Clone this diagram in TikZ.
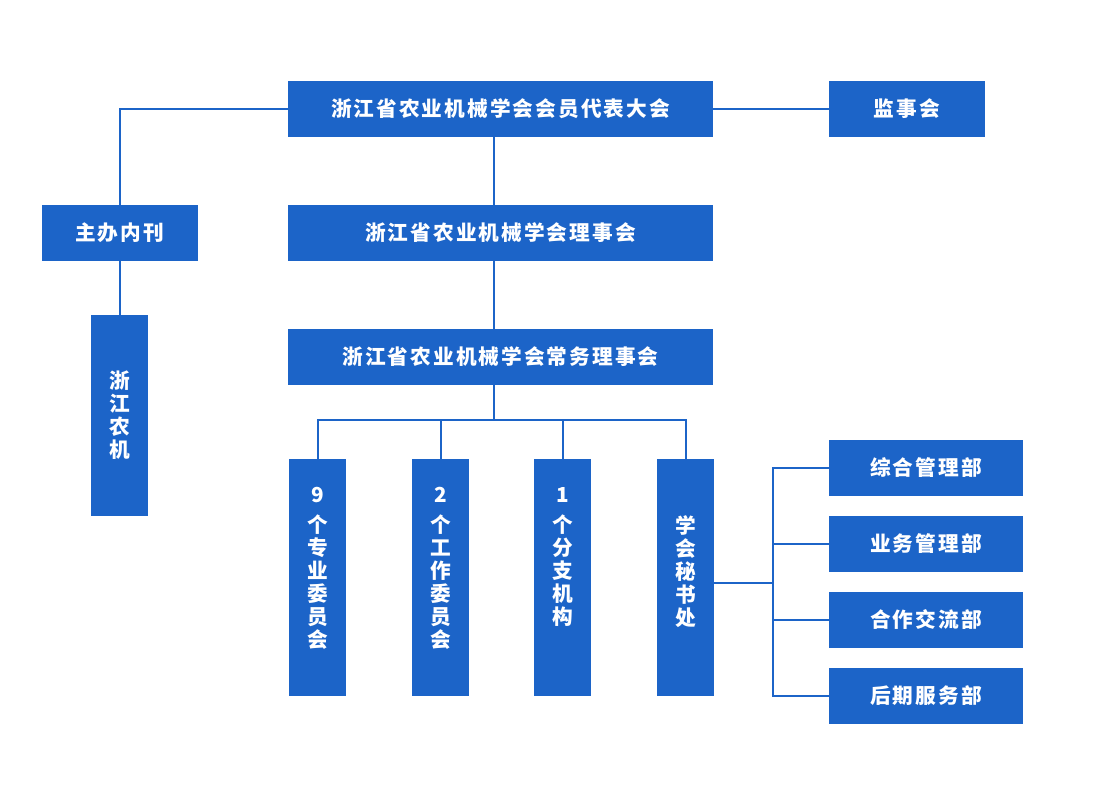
\documentclass[tikz,border=0pt]{standalone}
\usepackage{fontspec}
\newfontfamily\cjk[LetterSpace=10]{Noto Sans CJK SC}
\definecolor{orgblue}{RGB}{28,100,200}
\tikzset{
	box/.style={fill=orgblue, text=white, inner sep=0pt, align=center,
		font=\cjk\bfseries\fontsize{15.5}{17.25}\selectfont},
	widebox/.style={box, minimum width=318.75pt, minimum height=42pt},
	smallbox/.style={box, minimum width=117pt, minimum height=42pt},
	deptbox/.style={box, minimum width=145.5pt, minimum height=42pt},
	colbox/.style={box, minimum width=42.75pt, minimum height=177.75pt},
	coltext/.style={text=white, inner sep=0pt, align=center, anchor=north,
		font=\cjk\bfseries\fontsize{15.5}{17.25}\selectfont},
	link/.style={draw=orgblue, line width=1.5pt}
}

\begin{document}
\begin{tikzpicture}[x=0.75pt, y=-0.75pt]
			%%%%% START %%%%%
			
			\useasboundingbox (0, 0) rectangle (1100, 800);
			
			\coordinate (trunk) at (494, 0);
			\coordinate (bar) at (0, 419.5);
			\coordinate (hub) at (773, 583);
			
			\node[widebox] (congress) at (500.5, 109) {浙江省农业机械学会会员代表大会};
			\node[smallbox] (supervisors) at (907, 109) {监事会};
			\node[smallbox] (journal) at (119.5, 233) {主办内刊};
			\node[widebox] (council) at (500.5, 233) {浙江省农业机械学会理事会};
			\node[widebox] (standing) at (500.5, 357) {浙江省农业机械学会常务理事会};
			\node[colbox, minimum height=150.75pt] (zjnj) at (119.5, 415.5) {浙\\江\\农\\机};
			
			\node[colbox] (special) at (317.5, 577.5) {};
			\node[colbox] (work) at (440.5, 577.5) {};
			\node[colbox] (branch) at (562.5, 577.5) {};
			\node[colbox] (office) at (685.5, 577.5) {};
			
			\node[coltext] (specialtext) at (317.5, 487) {9\\[5.25pt]个\\专\\业\\委\\员\\会};
			\node[coltext] (worktext) at (440.5, 487) {2\\[5.25pt]个\\工\\作\\委\\员\\会};
			\node[coltext] (branchtext) at (562.5, 487) {1\\[5.25pt]个\\分\\支\\机\\构};
			\node[coltext] (officetext) at (685.5, 515) {学\\会\\秘\\书\\处};
			
			\node[deptbox] (general) at (926, 468) {综合管理部};
			\node[deptbox] (business) at (926, 544) {业务管理部};
			\node[deptbox] (cooperation) at (926, 620) {合作交流部};
			\node[deptbox] (logistics) at (926, 696) {后期服务部};
			
			\draw[link] (congress.west) -| (journal.north);
			\draw[link] (congress.east) -- (supervisors.west);
			\draw[link] (journal.south) -- (zjnj.north);
			\draw[link] (congress.south -| trunk) -- (council.north -| trunk);
			\draw[link] (council.south -| trunk) -- (standing.north -| trunk);
			
			\draw[link] (standing.south -| trunk) -- (bar -| trunk);
			\draw[link] (special.north) |- (office.north |- bar) -- (office.north);
			\draw[link] (work.north) -- (work.north |- bar);
			\draw[link] (branch.north) -- (branch.north |- bar);
			
			\draw[link] (office.east |- hub) -- (hub);
			\draw[link] (general.west) -| (hub) |- (logistics.west);
			\draw[link] (business.west) -- (business.west -| hub);
			\draw[link] (cooperation.west) -- (cooperation.west -| hub);
			
			%%%%% END %%%%%
\end{tikzpicture}
\end{document}
